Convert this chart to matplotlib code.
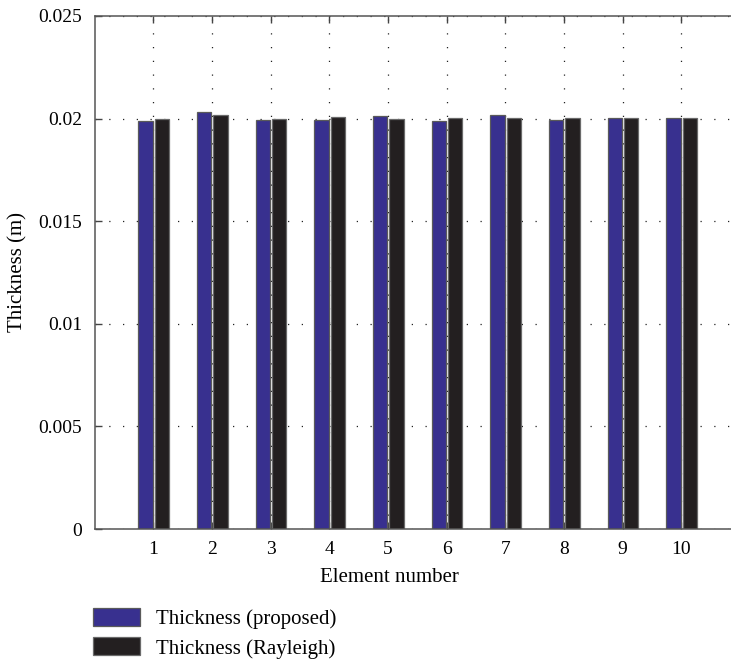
import matplotlib
matplotlib.use("Agg")
import matplotlib.pyplot as plt
import numpy as np

# Data
elements = [1, 2, 3, 4, 5, 6, 7, 8, 9, 10]
thick_proposed = [0.01988, 0.02034, 0.01993, 0.01995, 0.02015,
                  0.01988, 0.02018, 0.01995, 0.02005, 0.02001]
thick_rayleigh = [0.01997, 0.02016, 0.01998, 0.02006, 0.02000,
                  0.02003, 0.02003, 0.02003, 0.02003, 0.02003]
y_ticks = [0, 0.005, 0.01, 0.015, 0.02, 0.025]
y_labels = ["0", "0.005", "0.01", "0.015", "0.02", "0.025"]

plt.rcParams['font.family'] = ['Liberation Serif', 'DejaVu Serif']

fig = plt.figure(figsize=(7.31, 6.61), dpi=100)
ax = fig.add_axes([94.6 / 731, 1 - 529 / 661, 645.4 / 731, 513 / 661])

x = np.array(elements)
w = 0.245
b1 = ax.bar(x - 0.135, thick_proposed, w, color='#38308f', edgecolor='#5a5a5a',
            linewidth=0.9, label='Thickness (proposed)', zorder=2)
b2 = ax.bar(x + 0.145, thick_rayleigh, w, color='#231f20', edgecolor='#6a6a6a',
            linewidth=0.9, label='Thickness (Rayleigh)', zorder=2)

ax.set_xlim(0, 11)
ax.set_ylim(0, 0.025)
ax.set_xticks(elements)
ax.set_xticklabels([str(e) for e in elements])
ax.set_yticks(y_ticks)
ax.set_yticklabels(y_labels)

ax.set_axisbelow(True)
ax.grid(True, color='#222222', linestyle=(0, (1, 10)), linewidth=0.9)

ax.tick_params(direction='in', top=True, right=True, length=5, width=1,
               color='#444444', labelsize=14, pad=9)
for s in ax.spines.values():
    s.set_color('#555555')
    s.set_linewidth(1.1)

ax.set_xlabel('Element number', fontsize=15)
ax.xaxis.set_label_coords((389 - 94.6) / 645.4, -0.076)
ax.set_ylabel('Thickness (m)', fontsize=15, labelpad=8)

fig.legend(handles=[b1, b2], loc='upper left',
           bbox_to_anchor=(93 / 731, 1 - 608 / 661),
           frameon=False, fontsize=15, borderpad=0, borderaxespad=0,
           handlelength=2.25, handleheight=0.95, handletextpad=0.75,
           labelspacing=0.4)

fig.savefig('out.png', dpi=100)
